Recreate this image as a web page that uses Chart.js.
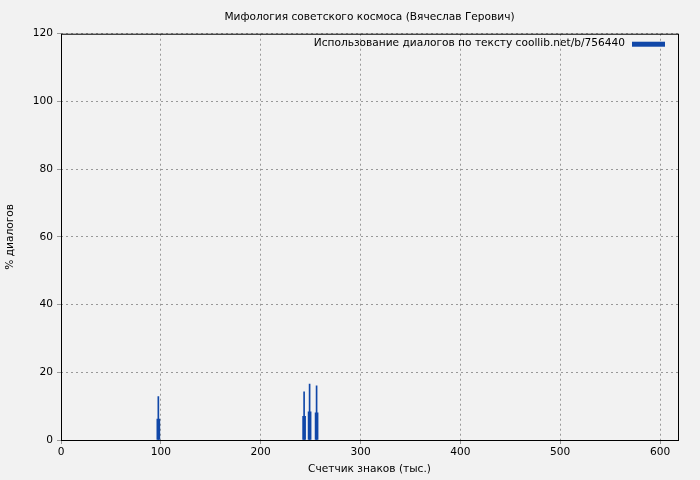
<!DOCTYPE html>
<html>
<head>
<meta charset="utf-8">
<script src="https://cdn.jsdelivr.net/npm/chart.js@4/dist/chart.umd.min.js"></script>
<style>
  body { margin: 0; background: #f2f2f2; }
  #c { display: block; }
</style>
</head>
<body>
<canvas id="c" width="700" height="480"></canvas>
<script>
// Data
const positions = [97.5, 243.5, 249, 256];     // тыс. знаков
const dialogShare = [6.2, 7.0, 8.3, 8.0];      // % диалогов (wide bars)
const dialogPeak = [12.8, 14.2, 16.5, 16.0];   // % диалогов (thin peaks)
const xTicks = [0, 100, 200, 300, 400, 500, 600];
const yTicks = [0, 20, 40, 60, 80, 100, 120];

const blue = '#1047a8';
const font = { family: 'DejaVu Sans', size: 10.6, weight: 'normal' };

const toPoints = (xs, ys) => xs.map((x, i) => ({ x: x, y: ys[i] }));

// legend drawn inside the plot, gnuplot style: text then line sample
const insideLegend = {
  id: 'insideLegend',
  afterDraw(chart) {
    const { ctx, chartArea } = chart;
    const label = chart.data.datasets[0].label;
    ctx.save();
    ctx.font = '10.6px "DejaVu Sans"';
    ctx.fillStyle = '#000';
    ctx.textAlign = 'right';
    ctx.textBaseline = 'middle';
    const y = chartArea.top + 10;
    ctx.fillText(label, chartArea.right - 53, y);
    ctx.fillStyle = blue;
    ctx.fillRect(chartArea.right - 46, y - 2, 33, 5);
    // frame
    ctx.strokeStyle = '#000';
    ctx.lineWidth = 1;
    ctx.strokeRect(chartArea.left + 0.5, chartArea.top + 0.5,
      chartArea.right - chartArea.left, chartArea.bottom - chartArea.top);
    ctx.restore();
  }
};

const bg = {
  id: 'bg',
  beforeDraw(chart) {
    const ctx = chart.ctx;
    ctx.save();
    ctx.fillStyle = '#f2f2f2';
    ctx.fillRect(0, 0, chart.width, chart.height);
    ctx.restore();
  }
};

new Chart(document.getElementById('c'), {
  type: 'bar',
  data: {
    datasets: [{
      label: 'Использование диалогов по тексту coollib.net/b/756440',
      data: toPoints(positions, dialogShare),
      backgroundColor: blue,
      barThickness: 3,
      grouped: false
    }, {
      label: 'peaks',
      data: toPoints(positions, dialogPeak),
      backgroundColor: blue,
      barThickness: 1,
      grouped: false
    }]
  },
  options: {
    responsive: false,
    animation: false,
    layout: { padding: { right: 22 } },
    plugins: {
      legend: { display: false },
      tooltip: { enabled: false },
      title: {
        display: true,
        fullSize: false,
        text: 'Мифология советского космоса (Вячеслав Герович)',
        color: '#000',
        font: font,
        padding: { top: 11, bottom: 10 }
      }
    },
    scales: {
      x: {
        type: 'linear',
        min: 0,
        max: 618,
        offset: false,
        afterBuildTicks: s => { s.ticks = xTicks.map(v => ({ value: v })); },
        afterFit: s => { s.height = 40; },
        ticks: { color: '#000', font: font, maxRotation: 0, padding: 2 },
        grid: { color: '#999', tickLength: 4, offset: false },
        border: { display: false, dash: [2, 3] },
        title: { display: true, text: 'Счетчик знаков (тыс.)', color: '#000', font: font, padding: { top: 2 } }
      },
      y: {
        min: 0,
        max: 120,
        afterBuildTicks: s => { s.ticks = yTicks.map(v => ({ value: v })); },
        afterFit: s => { s.width = 61; },
        ticks: { color: '#000', font: font, padding: 4 },
        grid: { color: '#999', tickLength: 4 },
        border: { display: false, dash: [2, 3] },
        title: { display: true, text: '% диалогов', color: '#000', font: font, padding: { bottom: 6 } }
      }
    }
  },
  plugins: [bg, insideLegend]
});
</script>
</body>
</html>
